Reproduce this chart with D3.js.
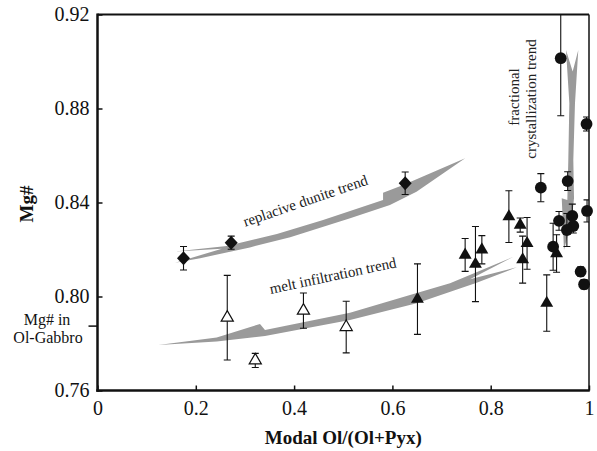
<!DOCTYPE html>
<html><head><meta charset="utf-8">
<script src="https://cdn.jsdelivr.net/npm/d3@7"></script>
<style>body{margin:0;background:#fff}svg{display:block}</style>
</head><body><svg id="c" width="597" height="451"></svg>
<script>
// ---- tick values / labels ----
const xTicks = [0, 0.2, 0.4, 0.6, 0.8, 1];
const xTickLabels = ["0", "0.2", "0.4", "0.6", "0.8", "1"];
const yTicks = [0.76, 0.80, 0.84, 0.88, 0.92];
const yTickLabels = ["0.76", "0.80", "0.84", "0.88", "0.92"];
const gabbroMg = 0.7874;

// ---- replacive dunites (filled diamonds) ----
const dunX = [0.175, 0.272, 0.626];
const dunY = [0.8163, 0.8229, 0.8482];
const dunErr = [0.005, 0.0028, 0.0048];

// ---- open triangles ----
const openX = [0.264, 0.321, 0.419, 0.506];
const openY = [0.791, 0.7728, 0.794, 0.787];
const openErr = [0.018, 0.003, 0.0075, 0.011];

// ---- filled triangles ----
const triX = [0.651, 0.748, 0.769, 0.782, 0.837, 0.860, 0.874, 0.865, 0.934, 0.914];
const triY = [0.7989, 0.8177, 0.8138, 0.8199, 0.834, 0.8304, 0.8226, 0.8157, 0.8183, 0.7972];
const triErr = [0.015, 0.007, 0.016, 0.006, 0.011, 0.003, 0.011, 0.010, 0.008, 0.012];

// ---- filled circles ----
const cirX = [0.9425, 0.995, 0.9566, 0.902, 0.996, 0.939, 0.966, 0.968, 0.955, 0.927, 0.983, 0.990];
const cirY = [0.9014, 0.8734, 0.8491, 0.8463, 0.8364, 0.8322, 0.8343, 0.8300, 0.8283, 0.8212, 0.8106, 0.8052];
const cirErr = [0.0245, 0.003, 0.004, 0.006, 0.0047, 0.004, 0.005, 0.003, 0.007, 0.010, 0.002, 0.002];

// ---- trend arrows (annotation outlines in data units) ----
const replaciveArrow = [[0.158,0.8191],[0.263,0.8215],[0.365,0.8266],[0.459,0.8326],[0.581,0.8411],[0.581,0.8442],[0.622,0.8474],[0.748,0.8588],[0.649,0.8446],[0.595,0.8389],[0.514,0.8333],[0.392,0.8252],[0.310,0.8209],[0.209,0.8163],[0.158,0.8144],[0.253,0.8203]];
const meltArrow = [[0.1237,0.7794],[0.2425,0.7826],[0.3306,0.7883],[0.3408,0.7857],[0.5137,0.7931],[0.6358,0.8006],[0.7172,0.8056],[0.846,0.8169],[0.7579,0.8073],[0.8529,0.8124],[0.7715,0.8059],[0.6494,0.7971],[0.5137,0.7900],[0.3408,0.7832],[0.2425,0.7808]];
const fracArrow = [[0.9532,0.9049],[0.9668,0.8957],[0.9782,0.9049],[0.9715,0.8822],[0.9681,0.8581],[0.9695,0.8418],[0.9648,0.8326],[0.9491,0.8198],[0.9465,0.8326],[0.9445,0.8418],[0.9559,0.8411],[0.9579,0.8581],[0.96,0.8822]];

const svg = d3.select("#c");
const L = 97.5, R = 589, T = 14.5, B = 390.5;
const x = d3.scaleLinear().domain([0, 1]).range([L, R]);
const y = d3.scaleLinear().domain([0.76, 0.92]).range([B, T]);
const serif = "'Liberation Serif','Times New Roman',serif";

svg.append("defs").append("clipPath").attr("id", "clip")
  .append("rect").attr("x", L).attr("y", T).attr("width", R - L).attr("height", B - T);

const plot = svg.append("g").attr("clip-path", "url(#clip)");
const marks = svg.append("g");

// arrows
const line = d3.line().x(d => x(d[0])).y(d => y(d[1]));
[replaciveArrow, meltArrow, fracArrow].forEach(a => {
  plot.append("path").attr("d", line(a) + "Z").attr("fill", "#9a9a9a").attr("stroke", "none");
});

// error bars
function errBars(xs, ys, es) {
  const g = plot.append("g").attr("stroke", "#111").attr("stroke-width", 1.1);
  xs.forEach((xv, i) => {
    const x0 = x(xv), y1 = y(ys[i] + es[i]), y2 = y(ys[i] - es[i]);
    g.append("line").attr("x1", x0).attr("x2", x0).attr("y1", y1).attr("y2", y2);
    g.append("line").attr("x1", x0 - 3.5).attr("x2", x0 + 3.5).attr("y1", y1).attr("y2", y1);
    g.append("line").attr("x1", x0 - 3.5).attr("x2", x0 + 3.5).attr("y1", y2).attr("y2", y2);
  });
}
errBars(dunX, dunY, dunErr);
errBars(openX, openY, openErr);
errBars(triX, triY, triErr);
errBars(cirX, cirY, cirErr);

// axes
const xAxis = d3.axisBottom(x).tickValues(xTicks).tickFormat((d, i) => xTickLabels[i])
  .tickSizeInner(-5).tickSizeOuter(0).tickPadding(10);
const gx = svg.append("g").attr("transform", `translate(0,${B})`).call(xAxis);
gx.select(".domain").remove();
gx.selectAll("line").attr("stroke", "#111").attr("stroke-width", 1.5);
gx.selectAll("text").attr("font-family", serif).attr("font-size", 20).attr("fill", "#111");

const yAxis = d3.axisLeft(y).tickValues(yTicks).tickFormat((d, i) => yTickLabels[i])
  .tickSizeInner(-5).tickSizeOuter(0).tickPadding(8);
const gy = svg.append("g").attr("transform", `translate(${L},0)`).call(yAxis);
gy.select(".domain").remove();
gy.selectAll("line").attr("stroke", "#111").attr("stroke-width", 1.5);
gy.selectAll("text").attr("font-family", serif).attr("font-size", 20).attr("fill", "#111");

// gabbro tick (outward)
svg.append("line").attr("x1", L - 9).attr("x2", L).attr("y1", y(gabbroMg)).attr("y2", y(gabbroMg))
  .attr("stroke", "#111").attr("stroke-width", 1.5);

// frame
svg.append("line").attr("x1", L).attr("x2", R).attr("y1", T).attr("y2", T).attr("stroke", "#111").attr("stroke-width", 2);
svg.append("line").attr("x1", R).attr("x2", R).attr("y1", T).attr("y2", B).attr("stroke", "#111").attr("stroke-width", 1.5);
svg.append("line").attr("x1", L).attr("x2", L).attr("y1", T - 1).attr("y2", B + 1.25).attr("stroke", "#111").attr("stroke-width", 2.5);
svg.append("line").attr("x1", L - 1.25).attr("x2", R + 0.75).attr("y1", B).attr("y2", B).attr("stroke", "#111").attr("stroke-width", 2.5);

// markers (drawn over the frame, not clipped)
const markG = svg.append("g");
const triPath = d3.symbol().type(d3.symbolTriangle).size(72)();
const triOpenPath = d3.symbol().type(d3.symbolTriangle).size(64)();
markG.selectAll(".dia").data(dunX).enter().append("path")
  .attr("d", "M0,-7L6.5,0L0,7L-6.5,0Z")
  .attr("transform", (d, i) => `translate(${x(d)},${y(dunY[i])})`)
  .attr("fill", "#111");
markG.selectAll(".otri").data(openX).enter().append("path")
  .attr("d", triOpenPath)
  .attr("transform", (d, i) => `translate(${x(d)},${y(openY[i])})`)
  .attr("fill", "#fff").attr("stroke", "#111").attr("stroke-width", 1.2);
markG.selectAll(".tri").data(triX).enter().append("path")
  .attr("d", triPath)
  .attr("transform", (d, i) => `translate(${x(d)},${y(triY[i])})`)
  .attr("fill", "#111");
markG.selectAll(".cir").data(cirX).enter().append("circle")
  .attr("cx", d => x(d)).attr("cy", (d, i) => y(cirY[i])).attr("r", 5.9)
  .attr("fill", "#111");

// axis titles
svg.append("text").attr("x", (L + R) / 2).attr("y", 444).attr("text-anchor", "middle")
  .attr("font-family", serif).attr("font-weight", "bold").attr("font-size", 19).attr("fill", "#111")
  .text("Modal Ol/(Ol+Pyx)");
svg.append("text").attr("transform", "translate(33,204) rotate(-90)").attr("text-anchor", "middle")
  .attr("font-family", serif).attr("font-weight", "bold").attr("font-size", 19).attr("fill", "#111")
  .text("Mg#");

// gabbro label
svg.append("text").attr("x", 47).attr("y", 325).attr("text-anchor", "middle")
  .attr("font-family", serif).attr("font-size", 16).attr("fill", "#111").text("Mg# in");
svg.append("text").attr("x", 48).attr("y", 343).attr("text-anchor", "middle")
  .attr("font-family", serif).attr("font-size", 16).attr("fill", "#111").text("Ol-Gabbro");

// trend labels
svg.append("text").attr("transform", "translate(307,205.5) rotate(-19)").attr("text-anchor", "middle")
  .attr("font-family", serif).attr("font-size", 15).attr("fill", "#222").text("replacive dunite trend");
svg.append("text").attr("transform", "translate(334,280.5) rotate(-12)").attr("text-anchor", "middle")
  .attr("font-family", serif).attr("font-size", 15).attr("fill", "#222").text("melt infiltration trend");
svg.append("text").attr("transform", "translate(519,97) rotate(-90)").attr("text-anchor", "middle")
  .attr("font-family", serif).attr("font-size", 15).attr("fill", "#222").text("fractional");
svg.append("text").attr("transform", "translate(535.5,99) rotate(-90)").attr("text-anchor", "middle")
  .attr("font-family", serif).attr("font-size", 15).attr("fill", "#222").text("crystallization trend");
</script></body></html>
